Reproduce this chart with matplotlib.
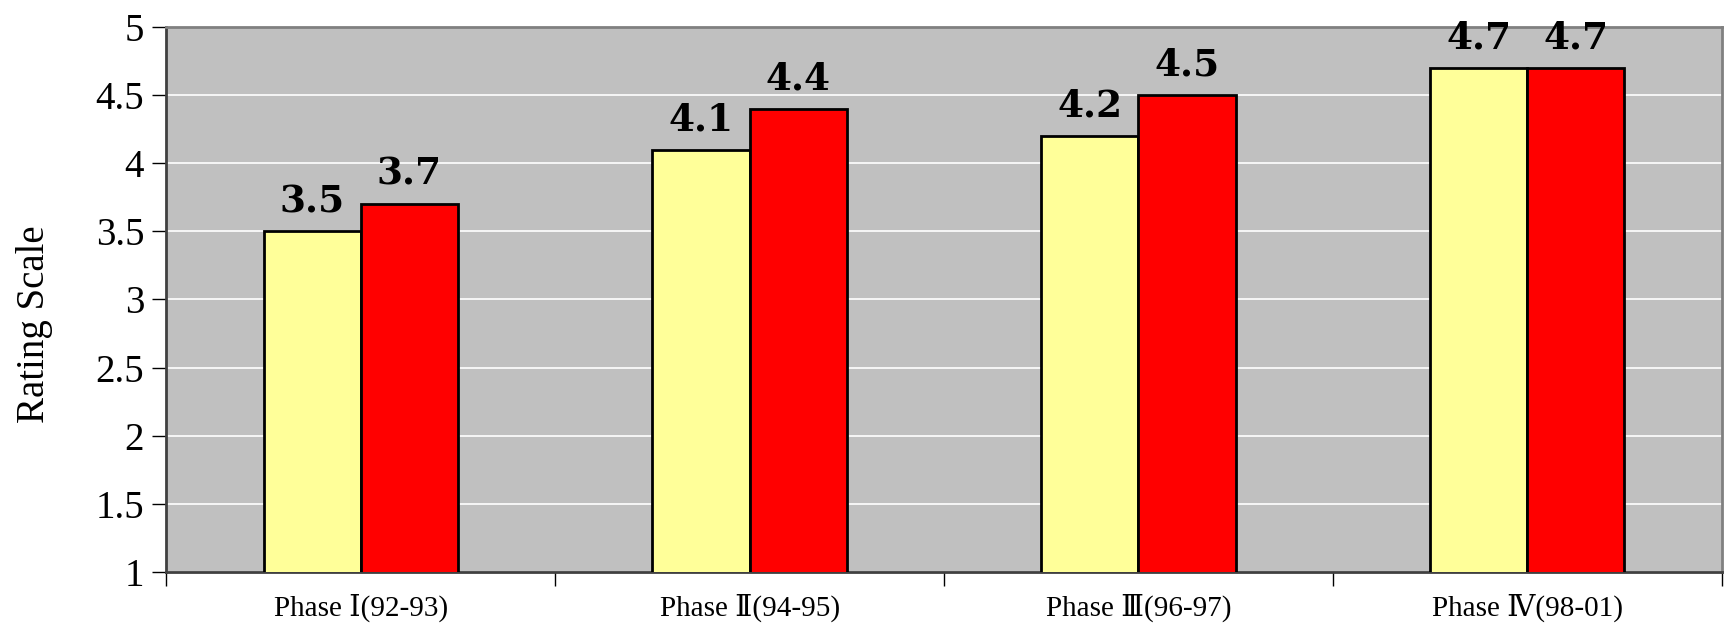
import numpy as np
import matplotlib
matplotlib.use("Agg")
import matplotlib.pyplot as plt
from matplotlib.ticker import FixedLocator

phases = ["Phase Ⅰ(92-93)", "Phase Ⅱ(94-95)", "Phase Ⅲ(96-97)", "Phase Ⅳ(98-01)"]
series_a = [3.5, 4.1, 4.2, 4.7]
series_b = [3.7, 4.4, 4.5, 4.7]
y_ticks = [1, 1.5, 2, 2.5, 3, 3.5, 4, 4.5, 5]
y_tick_labels = ["1", "1.5", "2", "2.5", "3", "3.5", "4", "4.5", "5"]

serif = ["Liberation Serif", "DejaVu Serif", "Noto Sans CJK JP"]
plt.rcParams["font.family"] = serif

fig = plt.figure(figsize=(17.25, 6.25), dpi=100)
ax = fig.add_axes([0.0965, 0.085, 0.9015, 0.872])
ax.set_facecolor("#C0C0C0")

x = np.arange(len(phases))
w = 0.25
bars_a = ax.bar(x - w / 2, series_a, w, bottom=0, color="#FFFF99",
                edgecolor="black", linewidth=2, zorder=3)
bars_b = ax.bar(x + w / 2, series_b, w, bottom=0, color="#FF0000",
                edgecolor="black", linewidth=2, zorder=3)

# data labels above each bar
for bars, vals in ((bars_a, series_a), (bars_b, series_b)):
    for b, v in zip(bars, vals):
        ax.annotate(f"{v:.1f}", (b.get_x() + b.get_width() / 2, v),
                    xytext=(0, 8), textcoords="offset points",
                    ha="center", va="bottom", fontsize=27,
                    fontweight="bold", family=["DejaVu Serif"], zorder=4)

ax.set_xlim(-0.5, len(phases) - 0.5)
ax.set_ylim(1, 5)
ax.set_yticks(y_ticks)
ax.set_yticklabels(y_tick_labels, fontsize=28)
ax.yaxis.grid(True, color="white", linewidth=1.2, zorder=1)
ax.set_axisbelow(True)

ax.set_xticks(x)
ax.set_xticklabels(phases, fontsize=21)
ax.tick_params(axis="x", length=0, pad=16)
ax.xaxis.set_minor_locator(FixedLocator(np.arange(-0.5, len(phases), 1)))
ax.tick_params(axis="x", which="minor", length=10, width=1, direction="out")
ax.tick_params(axis="y", length=10, width=1, direction="out", pad=6)

ax.set_ylabel("Rating Scale", fontsize=28, labelpad=31)
ax.yaxis.label.set_y(0.455)

for s in ("left", "bottom"):
    ax.spines[s].set_color("#404040")
    ax.spines[s].set_linewidth(2)
for s in ("top", "right"):
    ax.spines[s].set_color("#808080")
    ax.spines[s].set_linewidth(2)

fig.savefig("out.png", dpi=100)
